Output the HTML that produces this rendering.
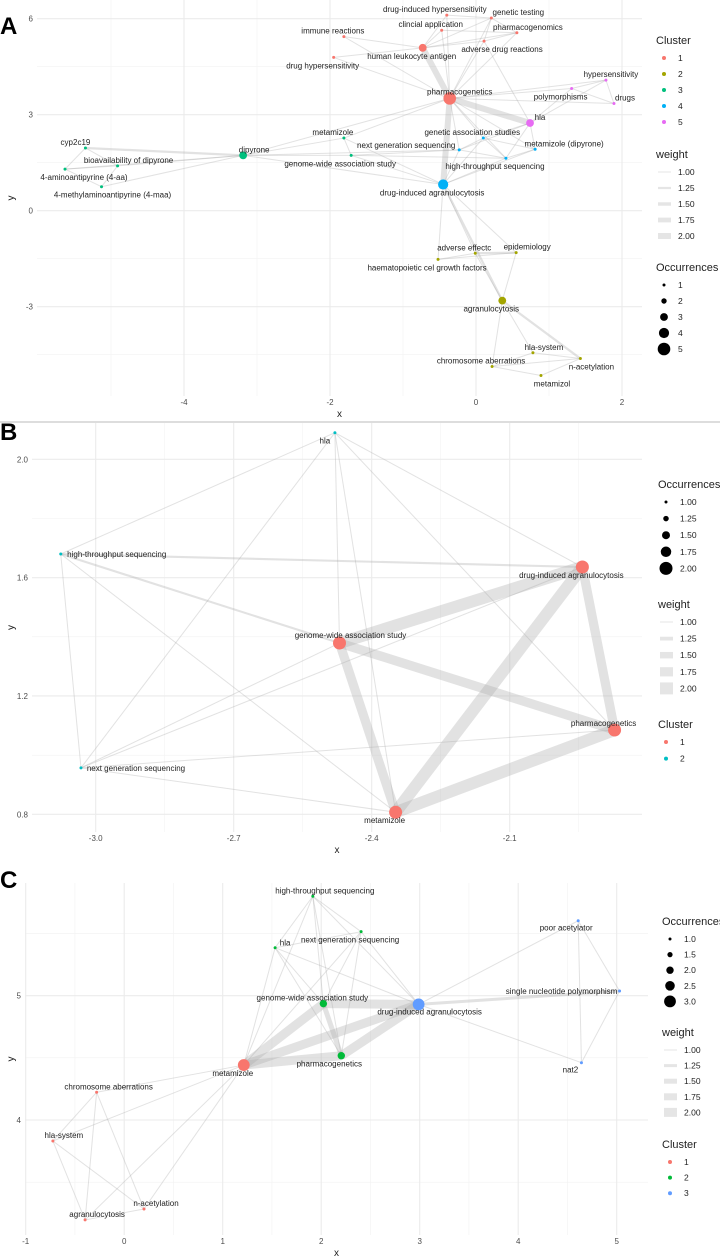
<!DOCTYPE html>
<html><head><meta charset="utf-8">
<style>
html,body{margin:0;padding:0;background:#fff;}
svg{display:block;font-family:"Liberation Sans",sans-serif;}
</style></head>
<body>
<svg id="chart" width="720" height="1260" viewBox="0 0 720 1260"></svg>
<script>
// ---------- Panel A data ----------
const aNames=["pharmacogenetics","human leukocyte antigen","drug-induced hypersensitivity","genetic testing","clincial application","pharmacogenomics","adverse drug reactions","immune reactions","drug hypersensitivity","hypersensitivity","polymorphisms","drugs","hla","genetic association studies","metamizole (dipyrone)","next generation sequencing","high-throughput sequencing","drug-induced agranulocytosis","metamizole","genome-wide association study","dipyrone","cyp2c19","bioavailability of dipyrone","4-aminoantipyrine (4-aa)","4-methylaminoantipyrine (4-maa)","adverse effectc","epidemiology","haematopoietic cel growth factors","agranulocytosis","hla-system","n-acetylation","chromosome aberrations","metamizol"];
const aX=[-0.36,-0.73,-0.40,0.21,-0.47,0.56,0.11,-1.81,-1.95,1.78,1.31,1.89,0.74,0.10,0.81,-0.23,0.41,-0.45,-1.81,-1.71,-3.19,-5.35,-4.91,-5.63,-5.13,-0.01,0.55,-0.52,0.36,0.78,1.43,0.22,0.89];
const aY=[3.51,5.09,6.11,6.02,5.64,5.56,5.30,5.44,4.79,4.08,3.82,3.35,2.74,2.27,1.92,1.90,1.64,0.82,2.27,1.73,1.73,1.96,1.40,1.30,0.75,-1.33,-1.31,-1.52,-2.81,-4.44,-4.62,-4.87,-5.15];
const aOcc=[5,3,1,1,1,1,1,1,1,1,1,1,3,1,1,1,1,4,1,1,3,1,1,1,1,1,1,1,3,1,1,1,1];
const aCluster=[1,1,1,1,1,1,1,1,1,5,5,5,5,4,4,4,4,4,3,3,3,3,3,3,3,2,2,2,2,2,2,2,2];
const aFrom=[0,0,0,0,0,0,0,0,0,0,0,0,0,0,0,0,0,0,0,1,1,1,1,1,1,1,2,4,3,6,6,12,12,12,10,10,9,12,12,12,12,17,17,17,17,15,13,13,16,15,17,17,17,17,17,17,17,20,20,20,20,20,20,20,21,21,23,23,22,18,19,19,25,25,27,28,28,28,28,28,29,29,31,30,31];
const aTo=[1,17,12,20,18,15,13,16,14,10,9,11,7,8,2,3,4,5,6,7,8,4,2,3,5,6,3,5,5,3,5,6,10,9,11,9,11,13,14,16,15,15,13,16,14,16,16,14,14,13,20,18,19,25,27,28,26,21,22,23,24,18,19,15,22,23,22,24,24,19,15,16,26,27,26,25,26,29,30,31,30,31,32,32,30];
const aW=[2,2,2,1,1,1,1,1,1,1,1,1,1,1,1,1,1,1,1,1,1,1,1,1,1,1,1,1,1,1,1,1,1,1,1,1,1,1,1,1,1,1,1,1,1,1,1,1,1,1,1,1,1,1,1,1.25,1,1.25,1,1,1,1,1,1,1,1,1,1,1,1,1,1,1.25,1,1,1,1,1,1.25,1,1,1,1,1,1];
const aDx=[10,-11,-12,27,-11,11,18,-11,-11,5,-11,11,10,-11,29,-53,-11,-11,-11,-11,11,-10,11,19,11,-11,11,-11,-11,11,11,-11,11];
const aDy=[-7,8,-6,-6,-6,-6,8,-6,8,-6,8,-6,-6,-6,-6,-5,8,8,-6,8,-6,-6,-6,8,8,-6,-6,8,8,-6,8,-6,8];
const aXTicks=[-4,-2,0,2];
const aYTicks=[-3,0,3,6];

// ---------- Panel B data ----------
const bNames=["hla","high-throughput sequencing","drug-induced agranulocytosis","genome-wide association study","pharmacogenetics","next generation sequencing","metamizole"];
const bX=[-2.48,-3.076,-1.942,-2.47,-1.872,-3.032,-2.348];
const bY=[2.09,1.68,1.636,1.379,1.085,0.957,0.807];
const bOcc=[1,1,2,2,2,1,2];
const bCluster=[2,2,1,1,1,2,1];
const bFrom=[0,0,0,0,0,0,1,1,1,1,5,5,5,5,3,3,3,2,2,6];
const bTo=[1,5,3,2,4,6,2,3,5,6,3,2,4,6,2,4,6,6,4,4];
const bW=[1,1,1,1,1,1,1.1,1.1,1,1,1,1,1,1,2,1.75,1.75,2,1.75,2];
const bDx=[-10,56,-11,11,-11,55,-11];
const bDy=[8,0,8,-8,-7,0,8];
const bXTicks=[-3.0,-2.7,-2.4,-2.1];
const bYTicks=[0.8,1.2,1.6,2.0];

// ---------- Panel C data ----------
const cNames=["high-throughput sequencing","next generation sequencing","hla","genome-wide association study","drug-induced agranulocytosis","pharmacogenetics","metamizole","poor acetylator","single nucleotide polymorphism","nat2","chromosome aberrations","hla-system","n-acetylation","agranulocytosis"];
const cX=[1.915,2.405,1.532,2.022,2.989,2.204,1.214,4.609,5.029,4.642,-0.28,-0.724,0.201,-0.397];
const cY=[5.80,5.515,5.386,4.936,4.930,4.517,4.442,5.603,5.038,4.461,4.223,3.831,3.284,3.196];
const cOcc=[1,1,1,2,3,2,3,1,1,1,1,1,1,1];
const cCluster=[2,2,2,2,3,2,1,3,3,3,1,1,1,1];
const cFrom=[6,6,6,3,5,3,6,6,6,6,6,6,6,0,0,0,0,0,1,1,1,1,2,2,2,4,4,4,7,7,8,10,10,11,11,13,10];
const cTo=[3,4,5,4,4,5,0,2,1,10,11,13,12,2,1,3,4,5,2,3,4,5,3,5,4,7,8,9,8,9,9,13,12,13,12,12,11];
const cW=[2,2,2,2,2,1.5,1,1,1,1,1,1,1,1,1,1,1,1,1,1,1,1,1,1,1,1,1.25,1,1,1,1,1,1,1,1,1,1];
const cDx=[12,-11,10,-11,11,-12,-11,-12,-58,-11,12,11,12,12];
const cDy=[-6,8,-5,-6,7,8,8,7,0,7,-6,-6,-6,-6];
const cXTicks=[-1,0,1,2,3,4,5];
const cYTicks=[4,5];

const svg=document.getElementById('chart');
const NS="http://www.w3.org/2000/svg";
function mk(tag,attrs,parent){const e=document.createElementNS(NS,tag);for(const k in attrs)e.setAttribute(k,attrs[k]);(parent||svg).appendChild(e);return e;}

function panel(cfg){
  const g=mk('g',{});
  
  
  const sx=v=>cfg.px0+(v-cfg.xr0)*cfg.kx;
  const sy=v=>cfg.py0-(v-cfg.yr0)*cfg.ky;
  cfg.xMinor.forEach(v=>{const l=mk('line',{x1:sx(v),x2:sx(v),y1:cfg.top,y2:cfg.bottom,stroke:'#f2f2f2','stroke-width':0.6},g);});
  cfg.yMinor.forEach(v=>{const l=mk('line',{x1:cfg.left,x2:cfg.right,y1:sy(v),y2:sy(v),stroke:'#f2f2f2','stroke-width':0.6},g);});
  cfg.xTicks.forEach(v=>{const l=mk('line',{x1:sx(v),x2:sx(v),y1:cfg.top,y2:cfg.bottom,stroke:'#ebebeb','stroke-width':1.1},g);
    const t=mk('text',{x:sx(v),y:cfg.bottom+9,'font-size':8,fill:'#4d4d4d','text-anchor':'middle'},g);t.textContent=cfg.fmt(v);});
  cfg.yTicks.forEach(v=>{const l=mk('line',{x1:cfg.left,x2:cfg.right,y1:sy(v),y2:sy(v),stroke:'#ebebeb','stroke-width':1.1},g);
    const t=mk('text',{x:cfg.left-4,y:sy(v)+3,'font-size':8,fill:'#4d4d4d','text-anchor':'end'},g);t.textContent=cfg.fmt(v);});
  const xt=mk('text',{x:(cfg.left+cfg.right)/2,y:cfg.bottom+21,'font-size':10,fill:'#222','text-anchor':'middle'},g);xt.textContent='x';
  
  const yt=mk('text',{x:14,y:(cfg.top+cfg.bottom)/2,'font-size':10,fill:'#222','text-anchor':'middle',transform:`rotate(-90 14 ${(cfg.top+cfg.bottom)/2})`},g);yt.textContent='y';
  
  const pl=mk('text',{x:0,y:cfg.labelY,'font-size':24,'font-weight':'bold',fill:'#000'},g);pl.textContent=cfg.letter;
  
  const ew=w=>1+(w-1)*cfg.maxW;
  cfg.from.forEach((f,i)=>{const t=cfg.to[i];
    const l=mk('line',{x1:sx(cfg.X[f]),y1:sy(cfg.Y[f]),x2:sx(cfg.X[t]),y2:sy(cfg.Y[t]),stroke:'rgba(170,170,170,0.34)','stroke-width':ew(cfg.W[i])},g);
    
    });
  const rad=o=>cfg.r0+(o-1)*cfg.rk;
  cfg.names.forEach((n,i)=>{
    const c=mk('circle',{cx:sx(cfg.X[i]),cy:sy(cfg.Y[i]),r:rad(cfg.occ[i]),fill:cfg.colors[cfg.cl[i]-1]},g);
    
    
  });
  cfg.names.forEach((n,i)=>{
    const t=mk('text',{x:sx(cfg.X[i])+cfg.dx[i],y:sy(cfg.Y[i])+cfg.dy[i]+3,'font-size':8,fill:'#222','text-anchor':'middle'},g);
    t.textContent=n;
    
    
  });
  cfg.legends.forEach(L=>{
    const tt=mk('text',{x:cfg.legX,y:L.y,'font-size':11,fill:'#222'},g);tt.textContent=L.title;
    
    L.items.forEach((it,j)=>{const yy=L.y+17+j*L.step;
      let m;
      if(L.kind==='size'){m=mk('circle',{cx:cfg.legX+8,cy:yy-3,r:rad(L.vals[j]),fill:'#000'},g);}
      else if(L.kind==='weight'){m=mk('rect',{x:cfg.legX+2,y:yy-3-ew(L.vals[j])/2,width:13,height:ew(L.vals[j]),fill:'rgba(170,170,170,0.3)'},g);}
      else {m=mk('circle',{cx:cfg.legX+8,cy:yy-3,r:2,fill:cfg.colors[j]},g);}
      
      const lt=mk('text',{x:cfg.legX+22,y:yy,'font-size':8.5,fill:'#222'},g);lt.textContent=it;
      
    });
  });
}
const wItems=["1.00","1.25","1.50","1.75","2.00"],wVals=[1,1.25,1.5,1.75,2];
panel({id:'a',letter:'A',labelY:34,px0:476,xr0:0,kx:73,py0:210.7,yr0:0,ky:32,top:0,bottom:396,left:37,right:642,
  xTicks:aXTicks,yTicks:aYTicks,xMinor:[-5,-3,-1,1],yMinor:[-4.5,-1.5,1.5,4.5],fmt:v=>String(v),
  names:aNames,X:aX,Y:aY,occ:aOcc,cl:aCluster,from:aFrom,to:aTo,W:aW,dx:aDx,dy:aDy,maxW:5,r0:1.5,rk:1.2,
  colors:['#F8766D','#A3A500','#00BF7D','#00B0F6','#E76BF3'],legX:656,
  legends:[{title:'Cluster',y:44,step:16,kind:'color',items:['1','2','3','4','5']},
           {title:'weight',y:158,step:16,kind:'weight',items:wItems,vals:wVals},
           {title:'Occurrences',y:271,step:16,kind:'size',items:['1','2','3','4','5'],vals:[1,2,3,4,5]}]});
const sep=mk('line',{x1:0,x2:720,y1:422,y2:422,stroke:'#bbb','stroke-width':1});


panel({id:'b',letter:'B',labelY:440,px0:95.7,xr0:-3.0,kx:460,py0:814.3,yr0:0.8,ky:295.8,top:423,bottom:832,left:32,right:642,
  xTicks:bXTicks,yTicks:bYTicks,xMinor:[-2.85,-2.55,-2.25,-1.95],yMinor:[1.0,1.4,1.8],fmt:v=>v.toFixed(1),
  names:bNames,X:bX,Y:bY,occ:bOcc,cl:bCluster,from:bFrom,to:bTo,W:bW,dx:bDx,dy:bDy,maxW:11,r0:1.5,rk:5,
  colors:['#F8766D','#00BFC4'],legX:658,
  legends:[{title:'Occurrences',y:488,step:16.6,kind:'size',items:['1.00','1.25','1.50','1.75','2.00'],vals:[1,1.25,1.5,1.75,2]},
           {title:'weight',y:608,step:16.6,kind:'weight',items:wItems,vals:wVals},
           {title:'Cluster',y:728,step:16.6,kind:'color',items:['1','2']}]});
panel({id:'c',letter:'C',labelY:888,px0:124.2,xr0:0,kx:98.5,py0:995.7,yr0:5,ky:124.3,top:883,bottom:1235,left:25,right:648,
  xTicks:cXTicks,yTicks:cYTicks,xMinor:[-0.5,0.5,1.5,2.5,3.5,4.5],yMinor:[3.5,4.5,5.5],fmt:v=>String(v),
  names:cNames,X:cX,Y:cY,occ:cOcc,cl:cCluster,from:cFrom,to:cTo,W:cW,dx:cDx,dy:cDy,maxW:8,r0:1.5,rk:2.2,
  colors:['#F8766D','#00BA38','#619CFF'],legX:662,
  legends:[{title:'Occurrences',y:925,step:15.6,kind:'size',items:['1.0','1.5','2.0','2.5','3.0'],vals:[1,1.5,2,2.5,3]},
           {title:'weight',y:1036,step:15.6,kind:'weight',items:wItems,vals:wVals},
           {title:'Cluster',y:1148,step:15.6,kind:'color',items:['1','2','3']}]});
</script>
</body></html>
